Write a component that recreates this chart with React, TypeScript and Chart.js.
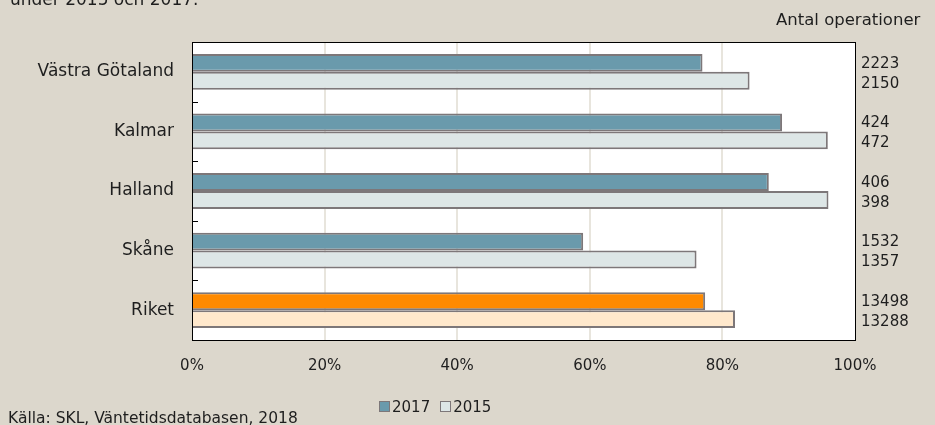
import React, { useEffect, useRef } from "react";
import { Chart, registerables } from "chart.js";

Chart.register(...registerables);

const categories = ["Västra Götaland", "Kalmar", "Halland", "Skåne", "Riket"];
const share2017 = [77.0, 89.0, 87.0, 59.0, 77.4];
const share2015 = [84.1, 95.9, 96.0, 76.1, 81.9];
const ops2017 = [2223, 424, 406, 1532, 13498];
const ops2015 = [2150, 472, 398, 1357, 13288];
const seriesLabels = ["2017", "2015"];
const xTickMin = 0;
const xTickMax = 100;
const xTickStep = 20;

const FONT = "'DejaVu Sans', sans-serif";
const BG = "#dcd7cc";
const TEXT = "#1e1e1e";
const BORDER_GRAY = "#7d7779";
const fill2017 = ["#6a9aac", "#6a9aac", "#6a9aac", "#6a9aac", "#ff8a00"];
const fill2015 = ["#dde6e6", "#dde6e6", "#dde6e6", "#dde6e6", "#ffe8cc"];

const framePlugin = {
  id: "frame",
  beforeDraw(chart: any) {
    const { ctx, chartArea: a } = chart;
    ctx.save();
    ctx.fillStyle = "#ffffff";
    ctx.fillRect(a.left, a.top, a.right - a.left, a.bottom - a.top);
    ctx.restore();
  },
  afterDraw(chart: any) {
    const { ctx, chartArea: a } = chart;
    const ys = chart.scales.y;
    ctx.save();
    ctx.strokeStyle = "#000";
    ctx.lineWidth = 1;
    ctx.strokeRect(Math.round(a.left) + 0.5, Math.round(a.top) + 0.5, Math.round(a.right - a.left), Math.round(a.bottom - a.top));
    // inward category boundary ticks
    ctx.beginPath();
    for (let i = 0; i < categories.length - 1; i++) {
      const y = Math.round((ys.getPixelForValue(i) + ys.getPixelForValue(i + 1)) / 2) + 0.5;
      ctx.moveTo(a.left, y);
      ctx.lineTo(a.left + 6, y);
    }
    ctx.stroke();
    // right-hand counts
    ctx.fillStyle = TEXT;
    ctx.font = `15px ${FONT}`;
    ctx.textAlign = "left";
    ctx.textBaseline = "middle";
    for (let i = 0; i < categories.length; i++) {
      const c = ys.getPixelForValue(i);
      ctx.fillText(String(ops2017[i]), a.right + 6, c - 8);
      ctx.fillText(String(ops2015[i]), a.right + 6, c + 12);
    }
    ctx.restore();
  },
};

export default function App() {
  const ref = useRef<HTMLCanvasElement | null>(null);

  useEffect(() => {
    document.body.style.margin = "0";
    const canvas = ref.current;
    if (!canvas) return;
    const chart = new Chart(canvas, {
      type: "bar",
      data: {
        labels: categories,
        datasets: [
          {
            label: seriesLabels[0],
            data: share2017,
            backgroundColor: fill2017,
            borderColor: BORDER_GRAY,
            borderWidth: 2,
            categoryPercentage: 0.6,
            barPercentage: 1.0,
          },
          {
            label: seriesLabels[1],
            data: share2015,
            backgroundColor: fill2015,
            borderColor: BORDER_GRAY,
            borderWidth: 2,
            categoryPercentage: 0.6,
            barPercentage: 1.0,
          },
        ],
      },
      options: {
        indexAxis: "y",
        animation: false,
        responsive: false,
        maintainAspectRatio: false,
        layout: { padding: { top: 42, right: 80, left: 0, bottom: 0 } },
        plugins: {
          legend: { display: false },
          tooltip: { enabled: false },
          title: { display: false },
        },
        scales: {
          x: {
            min: xTickMin,
            max: xTickMax,
            ticks: {
              stepSize: xTickStep,
              callback: (v: any) => `${v}%`,
              color: TEXT,
              font: { family: FONT, size: 15 },
              padding: 17,
              maxRotation: 0,
            },
            grid: {
              drawTicks: false,
              color: (c: any) =>
                c.tick && (c.tick.value === xTickMin || c.tick.value === xTickMax) ? "rgba(0,0,0,0)" : "#e8e5dd",
              lineWidth: 2,
            },
            border: { display: false },
            afterFit: (s: any) => {
              s.height = 85;
            },
          },
          y: {
            ticks: {
              color: TEXT,
              font: { family: FONT, size: 17 },
              padding: 18,
            },
            grid: { display: false, drawTicks: false },
            border: { display: false },
            afterFit: (s: any) => {
              s.width = 192;
            },
          },
        },
      },
      plugins: [framePlugin],
    } as any);
    return () => chart.destroy();
  }, []);

  const txt: React.CSSProperties = {
    position: "absolute",
    fontFamily: FONT,
    color: TEXT,
    whiteSpace: "nowrap",
    lineHeight: "18px",
  };
  const box = (bg: string): React.CSSProperties => ({
    display: "inline-block",
    width: 9,
    height: 9,
    background: bg,
    border: `1px solid ${BORDER_GRAY}`,
    marginRight: 2,
    verticalAlign: "0px",
  });

  return (
    <div style={{ position: "relative", width: 935, height: 425, background: BG, overflow: "hidden" }}>
      <canvas ref={ref} width={935} height={425} style={{ position: "absolute", left: 0, top: 0 }} />
      <div style={{ ...txt, left: 10, top: -10, fontSize: 17 }}>under 2015 och 2017.</div>
      <div style={{ ...txt, left: 776, top: 11, fontSize: 16.5 }}>Antal operationer</div>
      <div style={{ ...txt, left: 379, top: 398, fontSize: 15 }}>
        <span style={box(fill2017[0])} />
        {seriesLabels[0]}
        <span style={{ display: "inline-block", width: 10 }} />
        <span style={box(fill2015[0])} />
        {seriesLabels[1]}
      </div>
      <div style={{ ...txt, left: 8, top: 409, fontSize: 15.5 }}>Källa: SKL, Väntetidsdatabasen, 2018</div>
    </div>
  );
}
